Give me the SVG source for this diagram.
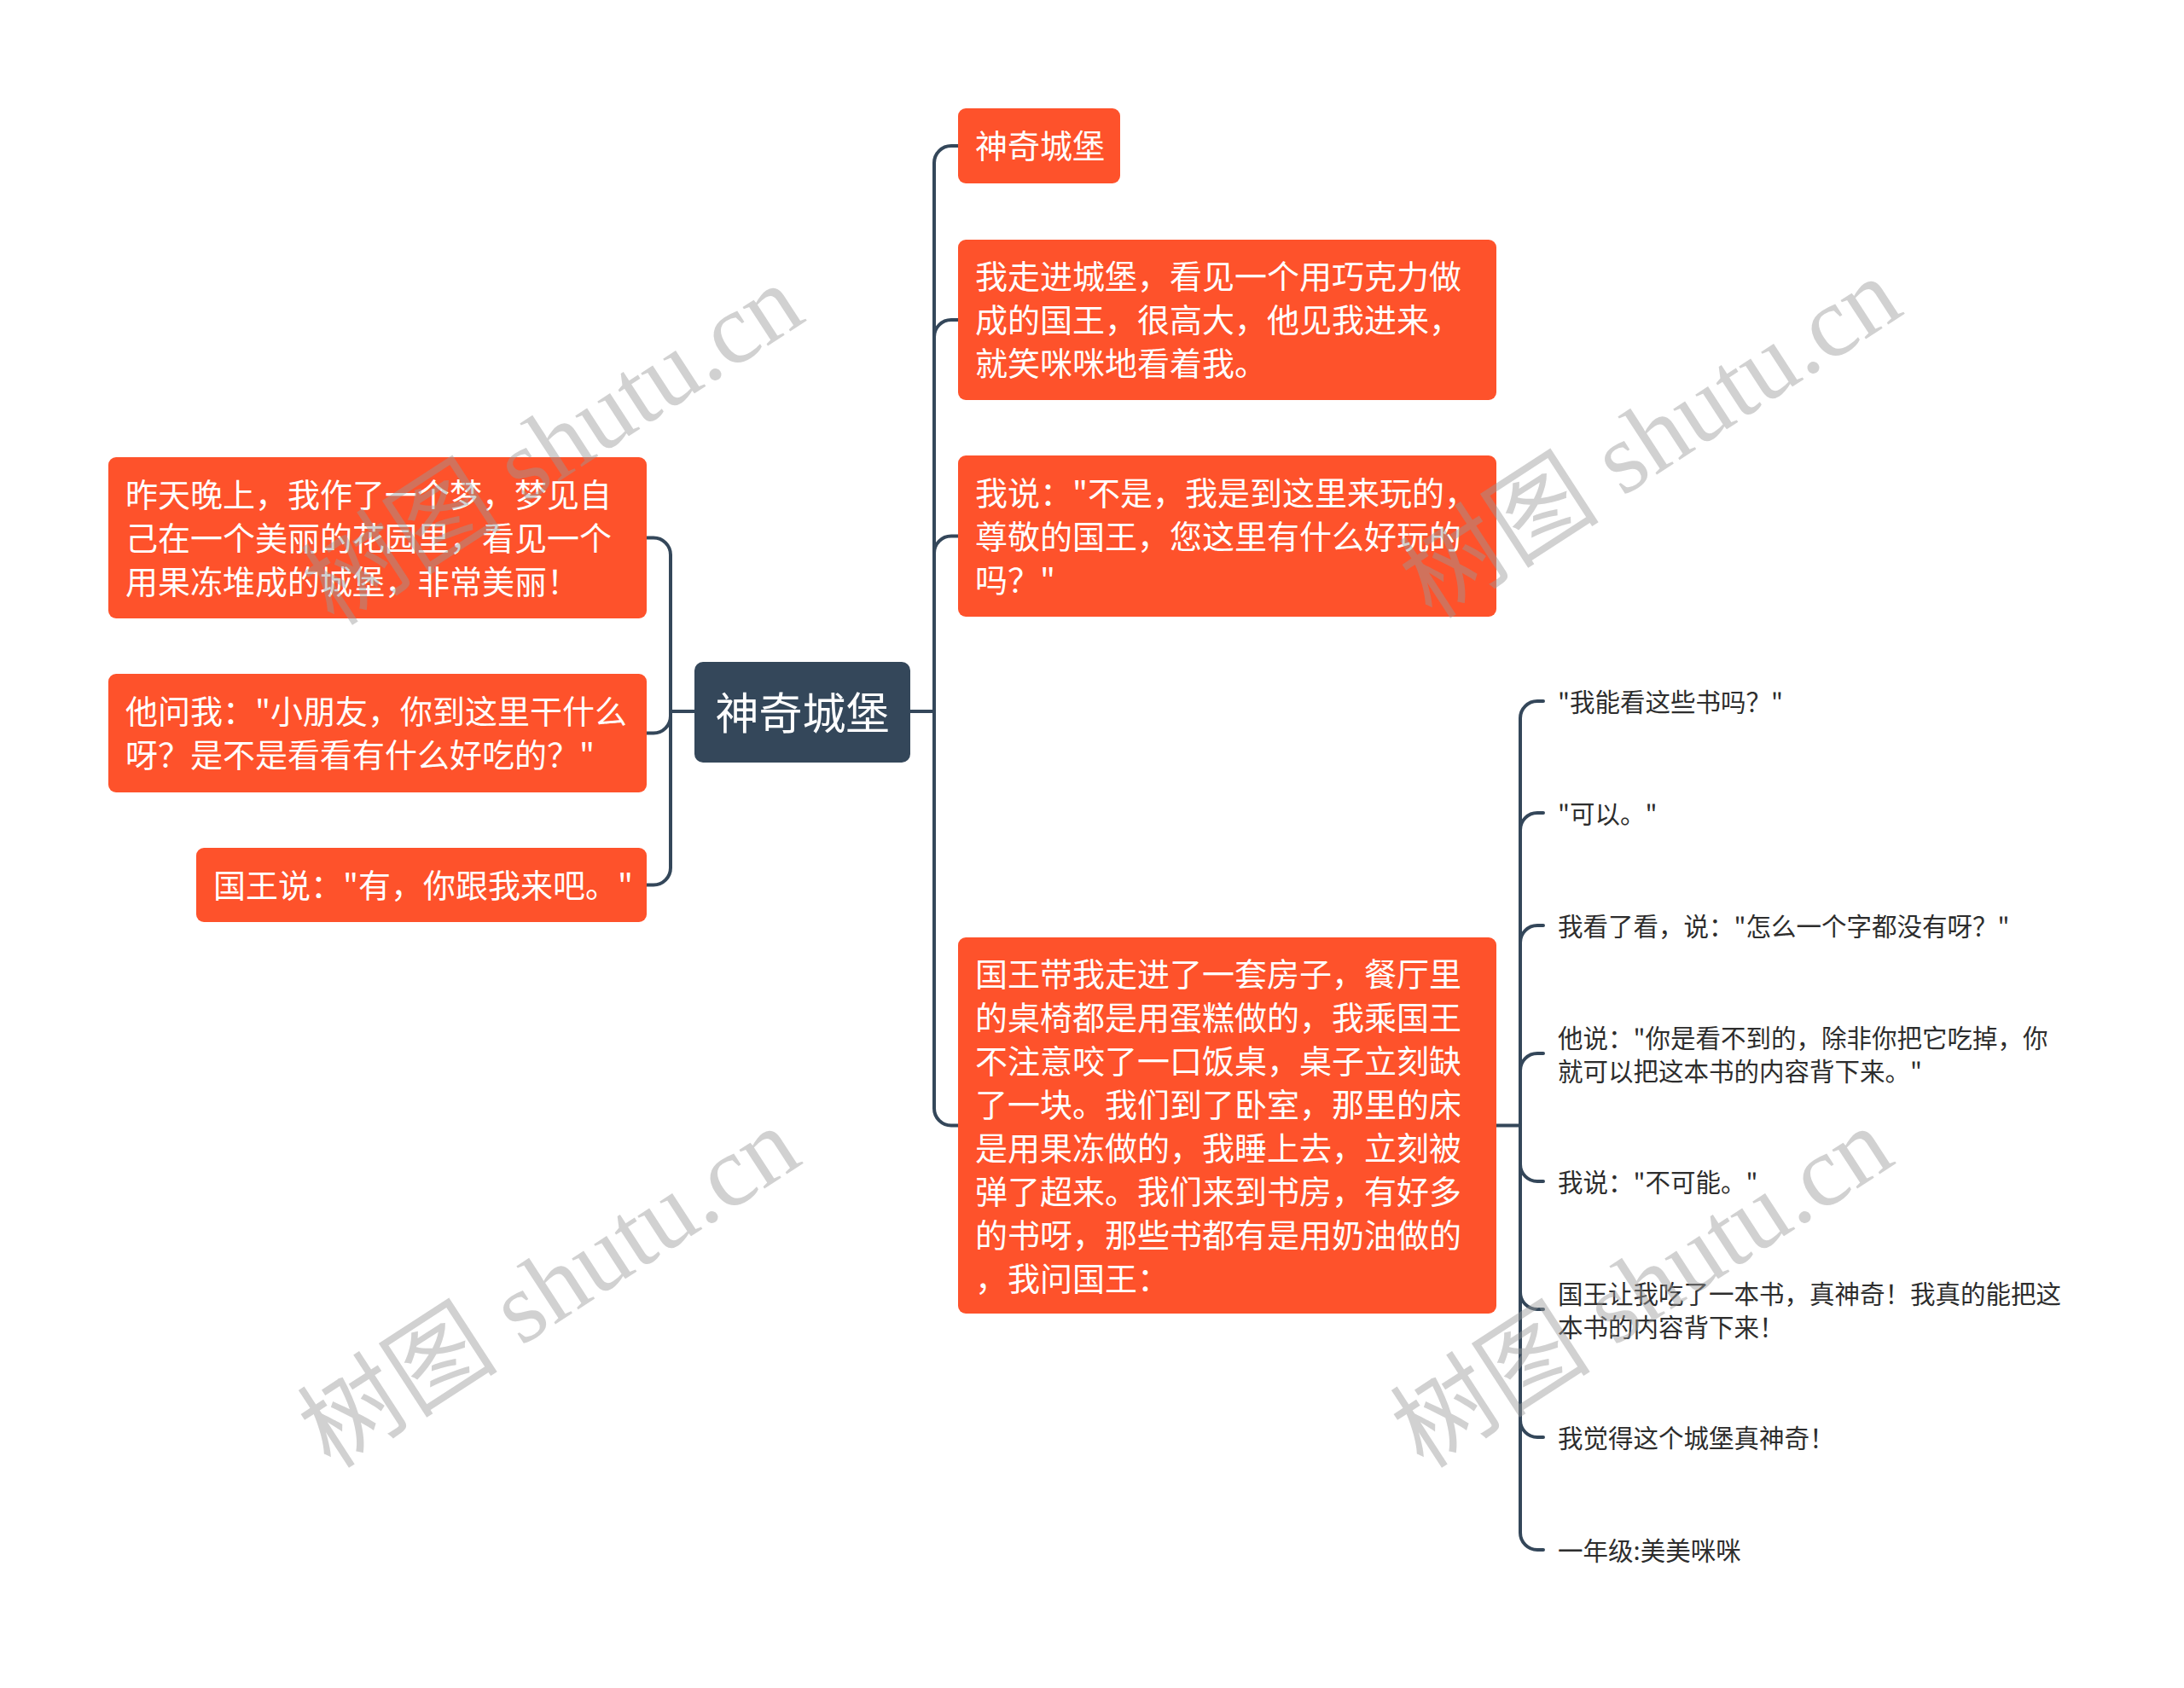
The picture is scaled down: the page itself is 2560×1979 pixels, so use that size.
<svg xmlns="http://www.w3.org/2000/svg" width="2560" height="1979" viewBox="0 0 2560 1979">
<style>
.bg{fill:#ffffff}
.node{fill:#fe522b}
.root{fill:#34475a}
.t{font-family:"Noto Sans CJK SC","Noto Sans",sans-serif;font-size:38px;fill:#ffffff;dominant-baseline:central}
.rt{font-family:"Noto Sans CJK SC","Noto Sans",sans-serif;font-size:51px;fill:#ffffff;dominant-baseline:central;text-anchor:middle}
.lt{font-family:"Noto Sans CJK SC","Noto Sans",sans-serif;font-size:29.5px;fill:#2d2d2d;dominant-baseline:central}
.c{fill:none;stroke:#34475a;stroke-width:4;stroke-linecap:round}
.wm{font-family:"Liberation Serif","Noto Sans CJK SC",serif;font-size:118px;fill:#9a9a9a;fill-opacity:0.45;text-anchor:middle;dominant-baseline:central}
</style>
<rect class="bg" x="0" y="0" width="2560" height="1979"/>
<g id="connectors">
<path class="c" d="M814 834 H786 V650.5 A20 20 0 0 0 766 630.5 H758"/>
<path class="c" d="M786 834 V839.5 A20 20 0 0 1 766 859.5 H758"/>
<path class="c" d="M786 834 V1017.5 A20 20 0 0 1 766 1037.5 H758"/>
<path class="c" d="M1067 834 H1095 V191 A20 20 0 0 1 1115 171 H1123"/>
<path class="c" d="M1095 834 V395 A20 20 0 0 1 1115 375 H1123"/>
<path class="c" d="M1095 834 V648.5 A20 20 0 0 1 1115 628.5 H1123"/>
<path class="c" d="M1095 834 V1299.5 A20 20 0 0 0 1115 1319.5 H1123"/>
<path class="c" d="M1754 1319.5 H1782 V842 A20 20 0 0 1 1802 822 H1809"/>
<path class="c" d="M1782 1319.5 V973 A20 20 0 0 1 1802 953 H1809"/>
<path class="c" d="M1782 1319.5 V1105 A20 20 0 0 1 1802 1085 H1809"/>
<path class="c" d="M1782 1319.5 V1255 A20 20 0 0 1 1802 1235 H1809"/>
<path class="c" d="M1782 1319.5 V1365 A20 20 0 0 0 1802 1385 H1809"/>
<path class="c" d="M1782 1319.5 V1515 A20 20 0 0 0 1802 1535 H1809"/>
<path class="c" d="M1782 1319.5 V1665 A20 20 0 0 0 1802 1685 H1809"/>
<path class="c" d="M1782 1319.5 V1797 A20 20 0 0 0 1802 1817 H1809"/>
</g>
<g id="root">
<rect class="root" x="814" y="776" width="253" height="118" rx="10"/>
<text class="rt" x="940.5" y="833">神奇城堡</text>
</g>
<g id="L1">
<rect class="node" x="127" y="536" width="631" height="189" rx="9"/>
<text class="t" x="147" y="577">昨天晚上，我作了一个梦，梦见自</text>
<text class="t" x="147" y="628">己在一个美丽的花园里，看见一个</text>
<text class="t" x="147" y="679">用果冻堆成的城堡，非常美丽！</text>
</g>
<g id="L2">
<rect class="node" x="127" y="790" width="631" height="139" rx="9"/>
<text class="t" x="147" y="831.5">他问我："小朋友，你到这里干什么</text>
<text class="t" x="147" y="882.5">呀？是不是看看有什么好吃的？"</text>
</g>
<g id="L3">
<rect class="node" x="230" y="994" width="528" height="87" rx="9"/>
<text class="t" x="250" y="1035">国王说："有，你跟我来吧。"</text>
</g>
<g id="R1">
<rect class="node" x="1123" y="127" width="190" height="88" rx="9"/>
<text class="t" x="1143" y="168.5">神奇城堡</text>
</g>
<g id="R2">
<rect class="node" x="1123" y="281" width="631" height="188" rx="9"/>
<text class="t" x="1143" y="321.5">我走进城堡，看见一个用巧克力做</text>
<text class="t" x="1143" y="372.5">成的国王，很高大，他见我进来，</text>
<text class="t" x="1143" y="423.5">就笑咪咪地看着我。</text>
</g>
<g id="R3">
<rect class="node" x="1123" y="534" width="631" height="189" rx="9"/>
<text class="t" x="1143" y="575">我说："不是，我是到这里来玩的，</text>
<text class="t" x="1143" y="626">尊敬的国王，您这里有什么好玩的</text>
<text class="t" x="1143" y="677">吗？"</text>
</g>
<g id="R4">
<rect class="node" x="1123" y="1099" width="631" height="441" rx="9"/>
<text class="t" x="1143" y="1139">国王带我走进了一套房子，餐厅里</text>
<text class="t" x="1143" y="1190">的桌椅都是用蛋糕做的，我乘国王</text>
<text class="t" x="1143" y="1241">不注意咬了一口饭桌，桌子立刻缺</text>
<text class="t" x="1143" y="1292">了一块。我们到了卧室，那里的床</text>
<text class="t" x="1143" y="1343">是用果冻做的，我睡上去，立刻被</text>
<text class="t" x="1143" y="1394">弹了超来。我们来到书房，有好多</text>
<text class="t" x="1143" y="1445">的书呀，那些书都有是用奶油做的</text>
<text class="t" x="1143" y="1496">，我问国王：</text>
</g>
<g id="leaf1"><text class="lt" x="1826" y="821">"我能看这些书吗？"</text></g>
<g id="leaf2"><text class="lt" x="1826" y="952">"可以。"</text></g>
<g id="leaf3"><text class="lt" x="1826" y="1084">我看了看，说："怎么一个字都没有呀？"</text></g>
<g id="leaf4">
<text class="lt" x="1826" y="1215">他说："你是看不到的，除非你把它吃掉，你</text>
<text class="lt" x="1826" y="1254">就可以把这本书的内容背下来。"</text>
</g>
<g id="leaf5"><text class="lt" x="1826" y="1384">我说："不可能。"</text></g>
<g id="leaf6">
<text class="lt" x="1826" y="1515">国王让我吃了一本书，真神奇！我真的能把这</text>
<text class="lt" x="1826" y="1554">本书的内容背下来！</text>
</g>
<g id="leaf7"><text class="lt" x="1826" y="1684">我觉得这个城堡真神奇！</text></g>
<g id="leaf8"><text class="lt" x="1826" y="1816">一年级:美美咪咪</text></g>
<g id="watermarks">
<text class="wm" transform="translate(648 522) rotate(-33)">树图 shutu.cn</text>
<text class="wm" transform="translate(1935 514) rotate(-33)">树图 shutu.cn</text>
<text class="wm" transform="translate(644 1510) rotate(-33)">树图 shutu.cn</text>
<text class="wm" transform="translate(1925 1510) rotate(-33)">树图 shutu.cn</text>
</g>
</svg>
